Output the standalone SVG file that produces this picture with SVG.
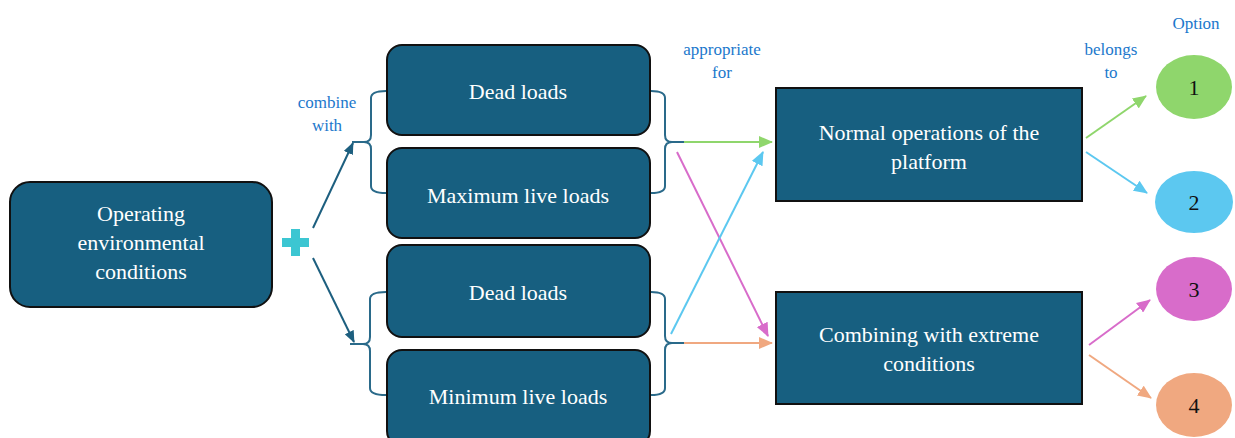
<svg xmlns="http://www.w3.org/2000/svg" width="1235" height="438" viewBox="0 0 1235 438">
<defs>
<marker id="mDark" markerWidth="12" markerHeight="10" refX="11" refY="5" orient="auto" markerUnits="userSpaceOnUse"><path d="M0,0 L12,5 L0,10 Z" fill="#1d5f7f"/></marker>
<marker id="mGreen" markerWidth="14" markerHeight="12" refX="13" refY="6" orient="auto" markerUnits="userSpaceOnUse"><path d="M0,0 L14,6 L0,12 Z" fill="#8fd66c"/></marker>
<marker id="mBlue" markerWidth="14" markerHeight="12" refX="13" refY="6" orient="auto" markerUnits="userSpaceOnUse"><path d="M0,0 L14,6 L0,12 Z" fill="#5cc8f0"/></marker>
<marker id="mPink" markerWidth="14" markerHeight="12" refX="13" refY="6" orient="auto" markerUnits="userSpaceOnUse"><path d="M0,0 L14,6 L0,12 Z" fill="#d86cca"/></marker>
<marker id="mOrange" markerWidth="14" markerHeight="12" refX="13" refY="6" orient="auto" markerUnits="userSpaceOnUse"><path d="M0,0 L14,6 L0,12 Z" fill="#f0a880"/></marker>
</defs>
<rect width="1235" height="438" fill="#fff"/>

<g id="connectors" fill="none" stroke-width="2">
<line x1="313" y1="228" x2="353" y2="143" stroke="#1d5f7f" marker-end="url(#mDark)"/>
<line x1="313" y1="258" x2="354" y2="342" stroke="#1d5f7f" marker-end="url(#mDark)"/>
<g stroke="#2a6a8a">
<path d="M386,91 Q371,91 371,98 L371,135 Q371,142 364,142 Q371,142 371,149 L371,186 Q371,193 386,193 M352,142 L364,142"/>
<path d="M386,292 Q370,292 370,299 L370,337 Q370,344 363,344 Q370,344 370,351 L370,388 Q370,395 386,395 M350,344 L363,344"/>
<path d="M651,91 Q665,91 665,98 L665,135 Q665,142 672,142 Q665,142 665,149 L665,186 Q665,193 651,193 M672,142 L684,142"/>
<path d="M651,292 Q665,292 665,299 L665,336 Q665,343 672,343 Q665,343 665,350 L665,388 Q665,395 651,395 M672,343 L684,343"/>
</g>
<line x1="684" y1="142" x2="772" y2="142" stroke="#8fd66c" marker-end="url(#mGreen)"/>
<line x1="684" y1="343" x2="772" y2="343" stroke="#f0a880" marker-end="url(#mOrange)"/>
<line x1="677" y1="152" x2="768" y2="336" stroke="#d86cca" marker-end="url(#mPink)"/>
<line x1="671" y1="334" x2="763" y2="152" stroke="#5cc8f0" marker-end="url(#mBlue)"/>
<line x1="1086" y1="138" x2="1146" y2="96" stroke="#8fd66c" marker-end="url(#mGreen)"/>
<line x1="1086" y1="152" x2="1147" y2="193" stroke="#5cc8f0" marker-end="url(#mBlue)"/>
<line x1="1089" y1="345" x2="1150" y2="300" stroke="#d86cca" marker-end="url(#mPink)"/>
<line x1="1089" y1="355" x2="1151" y2="398" stroke="#f0a880" marker-end="url(#mOrange)"/>
</g>

<g id="plus" fill="#3cc6d2">
<rect x="282" y="238" width="27" height="9"/>
<rect x="291" y="229" width="9" height="27"/>
</g>

<g id="labels">
<text font-family="Liberation Serif" font-size="17" fill="#1b78cc" text-anchor="middle" x="327" y="108">combine</text>
<text font-family="Liberation Serif" font-size="17" fill="#1b78cc" text-anchor="middle" x="327" y="131">with</text>
<text font-family="Liberation Serif" font-size="17" fill="#1b78cc" text-anchor="middle" x="722" y="55">appropriate</text>
<text font-family="Liberation Serif" font-size="17" fill="#1b78cc" text-anchor="middle" x="722" y="78">for</text>
<text font-family="Liberation Serif" font-size="17" fill="#1b78cc" text-anchor="middle" x="1111" y="55">belongs</text>
<text font-family="Liberation Serif" font-size="17" fill="#1b78cc" text-anchor="middle" x="1111" y="78">to</text>
<text font-family="Liberation Serif" font-size="17" fill="#1b78cc" text-anchor="middle" x="1196" y="29">Option</text>
</g>

<g id="node-operating">
<rect x="10" y="182" width="262" height="125" rx="20" fill="#175f80" stroke="#111" stroke-width="2"/>
<text font-family="Liberation Serif" font-size="22" fill="#fff" text-anchor="middle" x="141" y="221">Operating</text>
<text font-family="Liberation Serif" font-size="22" fill="#fff" text-anchor="middle" x="141" y="250">environmental</text>
<text font-family="Liberation Serif" font-size="22" fill="#fff" text-anchor="middle" x="141" y="279">conditions</text>
</g>
<g id="node-dead1">
<rect x="387" y="45" width="263" height="90" rx="15" fill="#175f80" stroke="#111" stroke-width="2"/>
<text font-family="Liberation Serif" font-size="22" fill="#fff" text-anchor="middle" x="518" y="99">Dead loads</text>
</g>
<g id="node-maxlive">
<rect x="387" y="148" width="263" height="90" rx="15" fill="#175f80" stroke="#111" stroke-width="2"/>
<text font-family="Liberation Serif" font-size="22" fill="#fff" text-anchor="middle" x="518" y="203">Maximum live loads</text>
</g>
<g id="node-dead2">
<rect x="387" y="245" width="263" height="92" rx="15" fill="#175f80" stroke="#111" stroke-width="2"/>
<text font-family="Liberation Serif" font-size="22" fill="#fff" text-anchor="middle" x="518" y="300">Dead loads</text>
</g>
<g id="node-minlive">
<rect x="387" y="350" width="263" height="96" rx="15" fill="#175f80" stroke="#111" stroke-width="2"/>
<text font-family="Liberation Serif" font-size="22" fill="#fff" text-anchor="middle" x="518" y="404">Minimum live loads</text>
</g>
<g id="node-normal">
<rect x="776" y="88" width="306" height="113" fill="#175f80" stroke="#111" stroke-width="2"/>
<text font-family="Liberation Serif" font-size="22" fill="#fff" text-anchor="middle" x="929" y="140">Normal operations of the</text>
<text font-family="Liberation Serif" font-size="22" fill="#fff" text-anchor="middle" x="929" y="169">platform</text>
</g>
<g id="node-extreme">
<rect x="776" y="292" width="306" height="112" fill="#175f80" stroke="#111" stroke-width="2"/>
<text font-family="Liberation Serif" font-size="22" fill="#fff" text-anchor="middle" x="929" y="342">Combining with extreme</text>
<text font-family="Liberation Serif" font-size="22" fill="#fff" text-anchor="middle" x="929" y="371">conditions</text>
</g>
<g id="option-1">
<ellipse cx="1194" cy="87" rx="38" ry="32" fill="#8fd66c"/>
<text font-family="Liberation Serif" font-size="22" fill="#111" text-anchor="middle" x="1194" y="95">1</text>
</g>
<g id="option-2">
<ellipse cx="1194" cy="202" rx="39" ry="31" fill="#5cc8f0"/>
<text font-family="Liberation Serif" font-size="22" fill="#111" text-anchor="middle" x="1194" y="210">2</text>
</g>
<g id="option-3">
<ellipse cx="1194" cy="289" rx="38" ry="32" fill="#d86cca"/>
<text font-family="Liberation Serif" font-size="22" fill="#111" text-anchor="middle" x="1194" y="297">3</text>
</g>
<g id="option-4">
<ellipse cx="1194" cy="405" rx="38" ry="32" fill="#f0a880"/>
<text font-family="Liberation Serif" font-size="22" fill="#111" text-anchor="middle" x="1194" y="413">4</text>
</g>
</svg>
